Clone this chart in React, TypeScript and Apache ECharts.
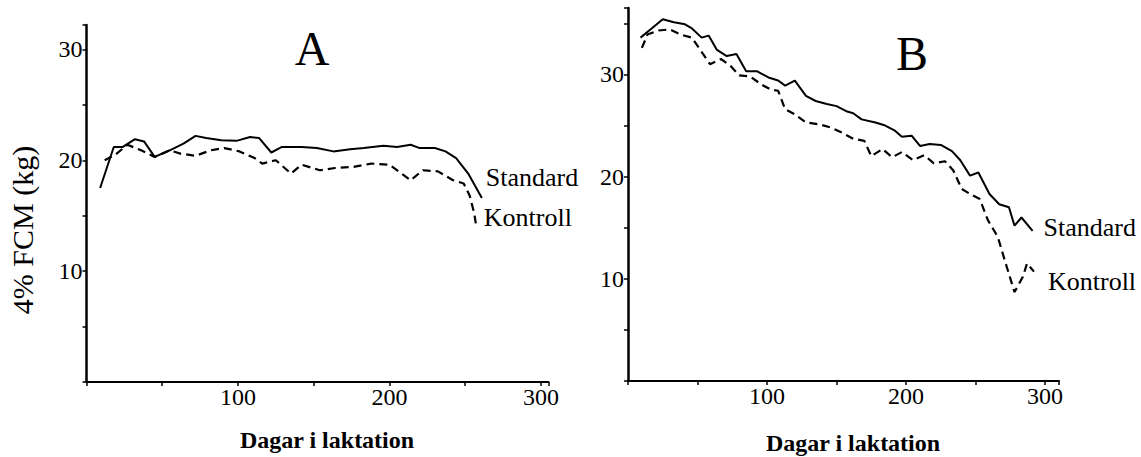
import React, { useEffect, useRef } from 'react';
import * as echarts from 'echarts';

// ---- Data ----
const xTickLabels = [100, 200, 300];
const yTickLabels = [10, 20, 30];
const panelTitles = ['A', 'B'];
const seriesNames = ['Standard', 'Kontroll'];
const xAxisTitle = 'Dagar i laktation';
const yAxisTitle = '4% FCM (kg)';

// Panel A – Standard (solid)
const aStandard: number[][] = [
  [9, 17.5], [18, 21.2], [24, 21.2], [32, 21.9], [38, 21.7], [45, 20.3], [55, 20.9],
  [64, 21.5], [72, 22.2], [79, 22.0], [89, 21.8], [99, 21.75], [108, 22.1], [114, 22.0],
  [122, 20.7], [129, 21.2], [142, 21.2], [152, 21.1], [163, 20.8], [174, 21.0],
  [183, 21.1], [196, 21.3], [205, 21.2], [214, 21.4], [220, 21.1], [230, 21.1],
  [237, 20.8], [244, 20.2], [252, 18.8], [261, 16.6],
];
// Panel A – Kontroll (dashed)
const aKontroll: number[][] = [
  [12, 20.0], [19, 20.5], [27, 21.4], [36, 20.9], [45, 20.3], [55, 20.9], [62, 20.6],
  [72, 20.4], [82, 20.9], [91, 21.1], [101, 20.8], [111, 20.2], [116, 19.7], [125, 20.0],
  [135, 18.8], [142, 19.6], [154, 19.1], [164, 19.3], [176, 19.4], [188, 19.7],
  [200, 19.6], [208, 18.8], [214, 18.2], [222, 19.1], [232, 19.0], [242, 18.2],
  [249, 17.9], [253, 16.8], [256, 15.2], [257, 14.3],
];
// Panel B – Standard (solid)
const bStandard: number[][] = [
  [9, 33.6], [17, 34.5], [25, 35.4], [33, 35.1], [41, 34.9], [46, 34.5], [53, 33.6],
  [58, 33.8], [64, 32.4], [71, 31.8], [78, 32.0], [85, 30.3], [93, 30.3], [101, 29.7],
  [108, 29.4], [113, 28.9], [120, 29.4], [128, 27.9], [135, 27.4], [143, 27.1],
  [150, 26.9], [157, 26.4], [162, 26.2], [168, 25.6], [178, 25.3], [185, 25.0],
  [192, 24.5], [197, 23.9], [204, 24.0], [210, 23.0], [217, 23.2], [225, 23.1],
  [233, 22.5], [239, 21.6], [246, 20.1], [252, 20.4], [260, 18.3], [267, 17.3],
  [274, 17.0], [278, 15.2], [283, 16.0], [291, 14.7],
];
// Panel B – Kontroll (dashed)
const bKontroll: number[][] = [
  [10, 32.6], [14, 33.9], [22, 34.3], [30, 34.4], [38, 33.9], [46, 33.6], [51, 32.6],
  [59, 31.0], [67, 31.5], [74, 30.8], [80, 29.9], [88, 29.8], [96, 29.0], [103, 28.5],
  [108, 28.4], [113, 26.6], [120, 26.1], [128, 25.3], [138, 25.1], [146, 24.8],
  [154, 24.3], [162, 23.7], [170, 23.5], [175, 22.0], [183, 22.7], [190, 21.9],
  [197, 22.4], [205, 21.6], [213, 22.1], [220, 21.3], [228, 21.5], [234, 20.6],
  [240, 18.8], [246, 18.3], [253, 17.8], [259, 15.7], [266, 14.1], [271, 11.8],
  [278, 8.7], [284, 10.2], [287, 11.5], [292, 10.7],
];

const FONT = "'Liberation Serif', 'Times New Roman', serif";

export default function App() {
  const ref = useRef<HTMLDivElement>(null);

  useEffect(() => {
    if (!ref.current) return;
    const chart = echarts.init(ref.current, undefined, { renderer: 'svg' });

    const xAxisBase = (gridIndex: number, max: number) => ({
      type: 'value',
      gridIndex,
      min: 0,
      max,
      interval: 50,
      splitLine: { show: false },
      axisLine: { show: true, onZero: false, lineStyle: { color: '#000', width: 2 } },
      axisTick: { show: true, length: 4, lineStyle: { color: '#000', width: 1.5 } },
      axisLabel: {
        color: '#000',
        fontFamily: FONT,
        fontSize: 24,
        margin: 3,
        formatter: (v: number) => (xTickLabels.includes(v) ? String(v) : ''),
      },
    });
    const yAxisBase = (gridIndex: number, max: number) => ({
      type: 'value',
      gridIndex,
      min: 0,
      max,
      interval: 5,
      splitLine: { show: false },
      axisLine: { show: true, onZero: false, lineStyle: { color: '#000', width: 2.5 } },
      axisTick: { show: true, length: 4, lineStyle: { color: '#000', width: 1.5 } },
      axisLabel: {
        color: '#000',
        fontFamily: FONT,
        fontSize: 24,
        margin: 4,
        formatter: (v: number) => (yTickLabels.includes(v) ? String(v) : ''),
      },
    });

    const lineSeries = (
      name: string,
      data: number[][],
      idx: number,
      dashed: boolean,
      offset: number[]
    ) => ({
      type: 'line',
      name,
      data,
      xAxisIndex: idx,
      yAxisIndex: idx,
      showSymbol: false,
      symbol: 'none',
      smooth: false,
      lineStyle: {
        color: '#000',
        width: dashed ? 2.2 : 2,
        type: dashed ? [8, 5] : 'solid',
      },
      endLabel: {
        show: true,
        formatter: '{a}',
        color: '#000',
        fontFamily: FONT,
        fontSize: 26,
        distance: 0,
        offset,
      },
    });

    const txt = (text: string, x: number, y: number, size: number, weight: string, rotation = 0) => ({
      type: 'text',
      x,
      y,
      rotation,
      style: {
        text,
        fontFamily: FONT,
        fontSize: size,
        fontWeight: weight,
        fill: '#000',
        textAlign: 'center',
        textVerticalAlign: 'middle',
      },
    });

    chart.setOption({
      animation: false,
      textStyle: { fontFamily: FONT },
      grid: [
        { left: 86.5, right: 592.5, top: 25, bottom: 75, containLabel: false },
        { left: 628, right: 82, top: 8, bottom: 76, containLabel: false },
      ],
      xAxis: [xAxisBase(0, 305), xAxisBase(1, 310)],
      yAxis: [yAxisBase(0, 32.2), yAxisBase(1, 36.5)],
      series: [
        lineSeries(seriesNames[0], aStandard, 0, false, [4, -20]),
        lineSeries(seriesNames[1], aKontroll, 0, true, [8, -6]),
        lineSeries(seriesNames[0], bStandard, 1, false, [11, -3]),
        lineSeries(seriesNames[1], bKontroll, 1, true, [14, 10]),
      ],
      graphic: [
        txt(panelTitles[0], 312, 48, 48, 'normal'),
        txt(panelTitles[1], 912, 53, 48, 'normal'),
        txt(xAxisTitle, 327, 440, 24, 'bold'),
        txt(xAxisTitle, 853, 443, 24, 'bold'),
        txt(yAxisTitle, 22, 230, 30, 'normal', Math.PI / 2),
      ],
    });

    return () => chart.dispose();
  }, []);

  return (
    <div
      ref={ref}
      style={{ position: 'absolute', left: 0, top: 0, width: 1141, height: 457, background: '#fff' }}
    />
  );
}
